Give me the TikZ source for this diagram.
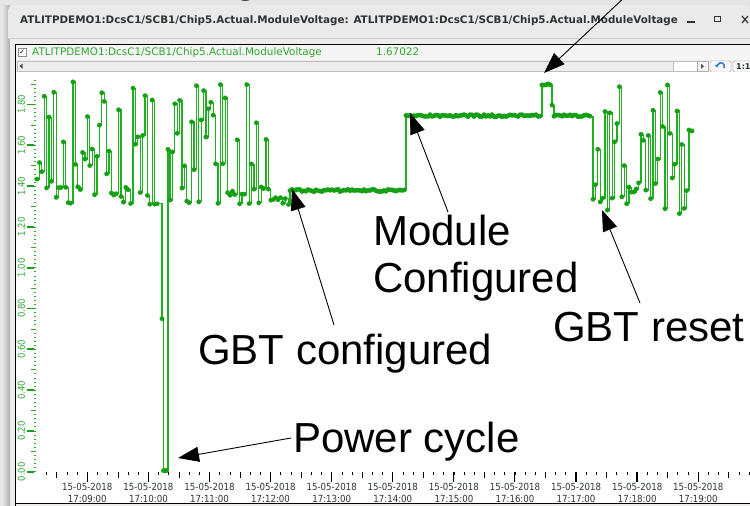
\documentclass[tikz,border=0pt]{standalone}
\usepackage{fontspec}
\usetikzlibrary{arrows.meta}
\newfontfamily\uifont{DejaVu Sans}
\newfontfamily\axfont[FakeStretch=0.88]{DejaVu Sans}
\newfontfamily\annot{Liberation Sans}
\definecolor{dgreen}{HTML}{149F14}
\definecolor{linegreen}{HTML}{1FB01F}
\definecolor{lgreen}{HTML}{2FA82F}
\definecolor{chrome}{HTML}{EAEAEA}
\definecolor{bodygray}{HTML}{EEEDEB}
\definecolor{titlegray}{HTML}{2E3436}
\definecolor{btnblue}{HTML}{3B7FD4}
% pseudo random noisy segment: start, end, step, lowbase, lowrange, highbase, highrange, prob(low)
\newcommand\addnoise[8]{%
  \pgfmathtruncatemacro{\nn}{(#2-#1)/#3}%
  \foreach \i in {0,...,\nn}{%
    \pgfmathsetmacro{\xx}{#1+\i*#3}%
    \pgfmathsetmacro{\rr}{rnd}%
    \pgfmathsetmacro{\qq}{rnd}%
    \pgfmathsetmacro{\vv}{\rr<#8 ? #4+#5*\qq : #6+#7*\qq}%
    \xdef\pts{\pts (\xx,\vv)}%
  }%
}
% flat segment: start, end, step, value, noise
\newcommand\addflat[5]{%
  \pgfmathtruncatemacro{\nn}{(#2-#1)/#3}%
  \foreach \i in {0,...,\nn}{%
    \pgfmathsetmacro{\xx}{#1+\i*#3}%
    \pgfmathsetmacro{\vv}{#4+#5*(rnd-0.5)}%
    \xdef\pts{\pts (\xx,\vv)}%
  }%
}
\begin{document}
\begin{tikzpicture}[x=1pt,y=-1pt,
  dataline/.style={draw=linegreen, line width=1.1pt},
  datamarks/.style={const plot, mark=*, mark size=2.3pt,
    mark options={fill=dgreen, draw=dgreen, line width=0.1pt}},
  callout/.style={draw=black, line width=0.9pt, -{Triangle[length=21pt,width=15pt]}},
  bigtext/.style={font=\annot\fontsize{42}{47}\selectfont, inner sep=0pt, text=black},
  ylab/.style={rotate=90, text=lgreen, inner sep=0pt, font=\axfont\fontsize{9.6}{11}\selectfont},
  xlab/.style={text=titlegray, inner sep=0pt, font=\axfont\fontsize{9.8}{11}\selectfont},
  uitext/.style={inner sep=0pt, anchor=base west}]
\useasboundingbox (0,0) rectangle (750,506);
% screen background and window shadow
\fill[color=black!10] (0,0) rectangle (750,506);
\shade[left color=black!12, right color=black!32] (3,5) rectangle (10,506);
% window title bar
\fill[chrome, rounded corners=6pt] (8,5) -- (750,5) -- (750,38) -- (8,38) -- cycle;
\fill[chrome] (8,20) rectangle (750,38);
\draw[black!20] (8,38.5) -- (750,38.5);
\node[uitext, text=titlegray, font=\uifont\bfseries\fontsize{10.36}{12}\selectfont] (title) at (20,23.5)
  {ATLITPDEMO1:DcsC1/SCB1/Chip5.Actual.ModuleVoltage: ATLITPDEMO1:DcsC1/SCB1/Chip5.Actual.ModuleVoltage};
\draw[titlegray, line width=1.3pt] (687,22) -- (695,22);
\draw[titlegray, line width=1.1pt] (714.5,16.5) rectangle (720.5,21.5);
\draw[titlegray, line width=1.2pt] (742,16) -- (748,23) (742,23) -- (748,16);
% window body
\fill[bodygray] (10,39) rectangle (750,506);
\fill[color=black!4] (16,45) rectangle (750,60);
\draw[black, line width=1pt] (15.5,506) -- (15.5,44.5) -- (750,44.5);
\draw[black, line width=1pt] (15.5,503.5) -- (750,503.5);
% legend row
\draw[black!45, fill=white] (18,48) rectangle (26,56);
\node[inner sep=0pt, font=\uifont\bfseries\fontsize{7}{8}\selectfont] (chk) at (22,52) {✓};
\node[uitext, text=lgreen, font=\uifont\fontsize{10.4}{12}\selectfont] (leg) at (32,55.5)
  {ATLITPDEMO1:DcsC1/SCB1/Chip5.Actual.ModuleVoltage};
\node[uitext, text=lgreen, font=\uifont\fontsize{10.4}{12}\selectfont] (legval) at (376,55.5) {1.67022};
% scroll row
\fill[color=black!8] (16,60) rectangle (750,72);
\draw[black!25, fill=black!7] (17,61.5) rectangle (673,71);
\fill[black!70] (19.5,66.2) -- (22.5,63.7) -- (22.5,68.7) -- cycle;
\draw[black!25, fill=white] (673,61.5) rectangle (697,71);
\draw[black!30, fill=black!4] (697,61.5) rectangle (708,71);
\fill[black!70] (704,66.2) -- (701,63.7) -- (701,68.7) -- cycle;
\draw[black!30, fill=black!3, rounded corners=1.5pt] (710,61) rectangle (731,72);
\draw[btnblue, line width=1.6pt, -{Triangle[length=3pt,width=4pt]}] (724,68) arc[start angle=-30, end angle=200, radius=3.5pt];
\draw[black!30, fill=black!3, rounded corners=1.5pt] (733,61) rectangle (755,72);
\node[uitext, font=\uifont\bfseries\fontsize{8}{9}\selectfont, text=titlegray] (oneone) at (736,69.5) {1:1};
% plot area
\fill[white] (16.2,72) rectangle (750,503);
% y ticks
\foreach \i in {0,...,96}{\draw[lgreen, line width=0.7pt] (33.5,{471.7-4.08*\i}) -- (36,{471.7-4.08*\i});}
\foreach \i in {0,5,...,95}{\draw[lgreen, line width=0.7pt] (31,{471.7-4.08*\i}) -- (36,{471.7-4.08*\i});}
\foreach \i in {0,10,...,90}{\draw[dgreen, line width=1.8pt] (27,{471.7-4.08*\i}) -- (34,{471.7-4.08*\i});}
\foreach \v/\lab in {0/0.00,1/0.20,2/0.40,3/0.60,4/0.80,5/1.00,6/1.20,7/1.40,8/1.60,9/1.80}
  {\node[ylab] (y\v) at (21.5,{471.7-40.8*\v}) {\lab};}
% x ticks
\foreach \i in {0,...,69}{\draw[black, line width=0.6pt] ({46.6+10.18*\i},472) -- ({46.6+10.18*\i},475);}
\foreach \i in {1,7,...,67}{\draw[black, line width=0.6pt] ({46.6+10.18*\i},472) -- ({46.6+10.18*\i},478);}
\foreach \i in {4,10,...,64}{\draw[black, line width=1.2pt] ({46.6+10.18*\i},472) -- ({46.6+10.18*\i},482);}
\foreach \m [count=\k from 0] in {09,10,11,12,13,14,15,16,17,18,19}{
  \node[xlab] (xd\k) at ({87.3+61.1*\k},487) {15-05-2018};
  \node[xlab] (xt\k) at ({87.3+61.1*\k},498.5) {17:\m:00};
}
% data
\pgfmathsetseed{4711}
\def\pts{}
\addnoise{37}{159}{2.4}{1.31}{0.09}{1.38}{0.54}{0.45}
\xdef\pts{\pts (162,0.75) (163.5,0.005) (165,0.005) (166.5,0.005) (168,1.58)}
\addnoise{170}{286}{2.4}{1.31}{0.09}{1.38}{0.54}{0.45}
\xdef\pts{\pts (288.5,1.31) (290,1.378)}
\addflat{292}{404}{2}{1.378}{0.012}
\addflat{406}{541}{2}{1.745}{0.012}
\addflat{542}{550}{2}{1.898}{0.008}
\xdef\pts{\pts (552,1.797)}
\addflat{554}{590}{2}{1.745}{0.01}
\addnoise{593}{689}{2.4}{1.26}{0.14}{1.38}{0.52}{0.45}
\xdef\pts{\pts (692,1.67022)}
\begin{scope}[yshift=-471.7pt, y=204pt]
\edef\tmp{\noexpand\draw[dataline] plot[datamarks] coordinates {\pts};}
\tmp
\end{scope}
% annotations
\node[bigtext, anchor=base west] (modtxt) at (373,245) {Module};
\node[bigtext, anchor=base west] (conftxt) at (373,292) {Configured};
\node[bigtext, anchor=base west] (gbtc) at (198,364) {GBT configured};
\node[bigtext, anchor=base west] (gbtr) at (553,341) {GBT reset};
\node[bigtext, anchor=base west] (pwr) at (293,452) {Power cycle};
\node[bigtext, anchor=base west] (topg) at (234.5,-8) {g};
\coordinate (topTail) at (627,-5);
\coordinate (topTip) at (544,73);
\coordinate (modTail) at (448,212);
\coordinate (modTip) at (410,113);
\coordinate (gcTail) at (334,325);
\coordinate (gcTip) at (292,189);
\coordinate (grTail) at (640,303);
\coordinate (grTip) at (602,210);
\coordinate (pwTail) at (291,438);
\coordinate (pwTip) at (178,458);
\draw[callout] (topTail) -- (topTip);
\draw[callout] (modTail) -- (modTip);
\draw[callout] (gcTail) -- (gcTip);
\draw[callout] (grTail) -- (grTip);
\draw[callout] (pwTail) -- (pwTip);
\end{tikzpicture}
\end{document}
